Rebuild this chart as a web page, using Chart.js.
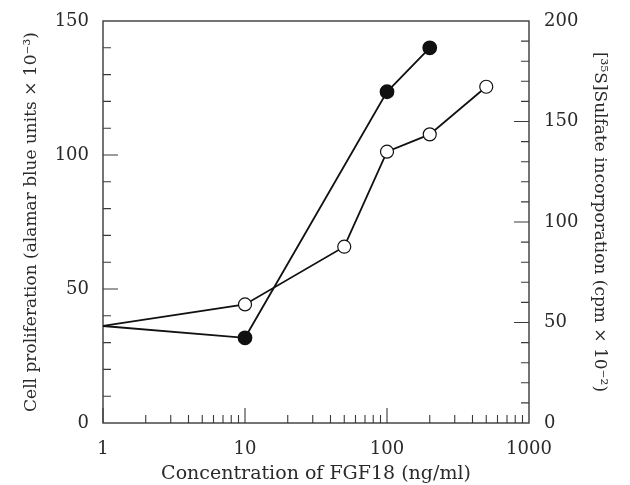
<!DOCTYPE html>
<html>
<head>
<meta charset="utf-8">
<script src="https://cdn.jsdelivr.net/npm/chart.js@4.4.1/dist/chart.umd.min.js"></script>
<style>
  html, body { margin: 0; padding: 0; background: #fff; }
  #wrap { width: 630px; height: 485px; position: relative; }
</style>
</head>
<body>
<div id="wrap"><canvas id="mainChart"></canvas></div>
<script>
// concentrations (ng/ml) and readings taken off the figure
const concFilled = [1, 10, 100, 200];
const prolif = [36.2, 31.8, 123.6, 140];          // left axis, alamar blue units x10^-3
const concOpen = [1, 10, 50, 100, 200, 500];
const sulfate = [48.3, 59, 87.7, 135, 143.6, 167.3]; // right axis, cpm x10^-2

const xMajor = [1, 10, 100, 1000];
const leftMajor = [0, 50, 100, 150];
const rightMajor = [0, 50, 100, 150, 200];

const serif = "'DejaVu Serif', 'Liberation Serif', serif";
const axisCol = '#3a3a3a';
const textCol = '#2a2a2a';

// frame + inward ticks (major long, minor short)
const frameTicks = {
    id: 'frameTicks',
    beforeDatasetsDraw(chart) {
        const { ctx, chartArea: a, scales } = chart;
        ctx.save();
        ctx.strokeStyle = axisCol;
        ctx.lineWidth = 1.4;
        ctx.strokeRect(a.left, a.top, a.right - a.left, a.bottom - a.top);
        ctx.lineWidth = 1.1;
        const major = 15, minor = 8;
        ctx.beginPath();
        // x axis: log decades
        for (let d = 1; d < 1000; d *= 10) {
            for (let k = 1; k <= 9; k++) {
                const v = d * k;
                const px = scales.x.getPixelForValue(v);
                const len = k === 1 ? major : minor;
                ctx.moveTo(px, a.bottom);
                ctx.lineTo(px, a.bottom - len);
            }
        }
        // left axis
        for (let v = 10; v < 150; v += 10) {
            const py = scales.y.getPixelForValue(v);
            const len = v % 50 === 0 ? major : minor;
            ctx.moveTo(a.left, py);
            ctx.lineTo(a.left + len, py);
        }
        // right axis
        for (let v = 10; v < 200; v += 10) {
            const py = scales.y1.getPixelForValue(v);
            const len = v % 50 === 0 ? major : minor;
            ctx.moveTo(a.right, py);
            ctx.lineTo(a.right - len, py);
        }
        ctx.stroke();
        ctx.restore();
    }
};

const ctx = document.getElementById('mainChart').getContext('2d');
const chart = new Chart(ctx, {
    type: 'line',
    data: {
        datasets: [
            {
                label: 'Cell proliferation',
                data: concFilled.map((c, i) => ({ x: c, y: prolif[i] })),
                yAxisID: 'y',
                borderColor: '#111',
                borderWidth: 1.8,
                backgroundColor: '#111',
                pointBackgroundColor: '#111',
                pointBorderColor: '#111',
                pointRadius: concFilled.map(c => c === 1 ? 0 : 6.5),
                tension: 0
            },
            {
                label: 'Sulfate incorporation',
                data: concOpen.map((c, i) => ({ x: c, y: sulfate[i] })),
                yAxisID: 'y1',
                borderColor: '#111',
                borderWidth: 1.8,
                pointBackgroundColor: '#fff',
                pointBorderColor: '#111',
                pointBorderWidth: 1.2,
                pointRadius: concOpen.map(c => c === 1 ? 0 : 6.5),
                tension: 0
            }
        ]
    },
    options: {
        responsive: true,
        maintainAspectRatio: false,
        animation: false,
        events: [],
        layout: { padding: { top: 21, left: 0, right: 0, bottom: 0 } },
        plugins: {
            legend: { display: false },
            tooltip: { enabled: false }
        },
        scales: {
            x: {
                type: 'logarithmic',
                position: 'bottom',
                min: 1,
                max: 1000,
                grid: { display: false },
                border: { display: false },
                afterBuildTicks: s => { s.ticks = xMajor.map(v => ({ value: v })); },
                afterFit: s => { s.height = 62; },
                ticks: {
                    color: textCol,
                    font: { family: serif, size: 18 },
                    padding: 8,
                    maxRotation: 0,
                    callback: v => String(v)
                },
                title: {
                    display: true,
                    text: 'Concentration of FGF18 (ng/ml)',
                    color: textCol,
                    font: { family: serif, size: 19 },
                    padding: { top: 4, bottom: 0 }
                }
            },
            y: {
                position: 'left',
                min: 0,
                max: 150,
                grid: { display: false },
                border: { display: false },
                afterBuildTicks: s => { s.ticks = leftMajor.map(v => ({ value: v })); },
                afterFit: s => { s.width = 103; },
                ticks: {
                    color: textCol,
                    font: { family: serif, size: 18 },
                    padding: 6
                },
                title: {
                    display: true,
                    text: 'Cell proliferation (alamar blue units × 10⁻³)',
                    color: textCol,
                    font: { family: serif, size: 17 },
                    padding: { top: 21, bottom: 0 }
                }
            },
            y1: {
                position: 'right',
                min: 0,
                max: 200,
                grid: { display: false },
                border: { display: false },
                afterBuildTicks: s => { s.ticks = rightMajor.map(v => ({ value: v })); },
                afterFit: s => { s.width = 101; },
                ticks: {
                    color: textCol,
                    font: { family: serif, size: 18 },
                    padding: 7
                },
                title: {
                    display: true,
                    text: '[³⁵S]Sulfate incorporation (cpm × 10⁻²)',
                    color: textCol,
                    font: { family: serif, size: 17 },
                    padding: { top: 20, bottom: 0 }
                }
            }
        }
    },
    plugins: [frameTicks]
});
</script>
</body>
</html>
